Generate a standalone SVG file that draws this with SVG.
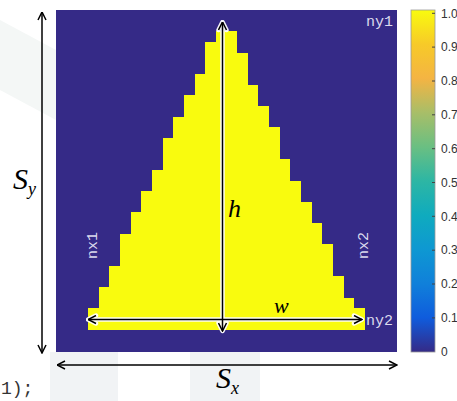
<svg xmlns="http://www.w3.org/2000/svg" width="457" height="401" viewBox="0 0 457 401">
<defs>
<linearGradient id="parula" x1="0" y1="1" x2="0" y2="0">
<stop offset="0" stop-color="#352a87"/>
<stop offset="0.1" stop-color="#0f5cdd"/>
<stop offset="0.2" stop-color="#1080da"/>
<stop offset="0.3" stop-color="#0e98d2"/>
<stop offset="0.4" stop-color="#0fabbe"/>
<stop offset="0.5" stop-color="#2db6a4"/>
<stop offset="0.6" stop-color="#6abf82"/>
<stop offset="0.7" stop-color="#a8be68"/>
<stop offset="0.8" stop-color="#f4b443"/>
<stop offset="0.9" stop-color="#f7ca28"/>
<stop offset="1" stop-color="#f9fb0e"/>
</linearGradient>
<marker id="arr" viewBox="0 0 10 10" refX="9.5" refY="5" markerWidth="10" markerHeight="10" markerUnits="userSpaceOnUse" orient="auto-start-reverse">
<path d="M1.5,1 L9.5,5 L1.5,9" fill="none" stroke="#000" stroke-width="1.5"/>
</marker>
<marker id="arrw" viewBox="-2 -2 14 14" refX="9.5" refY="5" markerWidth="14" markerHeight="14" markerUnits="userSpaceOnUse" orient="auto-start-reverse">
<path d="M1.5,1 L9.5,5 L1.5,9" fill="none" stroke="#fff" stroke-width="4.5" stroke-linejoin="round" stroke-linecap="round"/>
</marker>
</defs>
<style>
.lbl{font-family:"Liberation Serif","Times New Roman",serif;font-style:italic;fill:#000}
.mono{font-family:"Liberation Mono","Courier New",monospace;fill:#dcdaee;font-size:15px}
.tick{font-family:"Liberation Sans",Arial,sans-serif;font-size:12px;fill:#333}
.ax{stroke:#000;stroke-width:1.5;fill:none}
.halo{stroke:#fff;stroke-width:4.5;fill:none;opacity:0.95}
</style>
<rect width="457" height="401" fill="#fff"/>
<polygon points="0,20 56,50 56,120 0,90" fill="#f4f7f6"/>
<rect x="50" y="352" width="68" height="49" fill="#f1f3f5"/>
<rect x="190" y="352" width="70" height="49" fill="#f1f3f5"/>
<g id="image">
<rect x="56" y="10" width="341" height="342" fill="#352a87"/>
<g transform="translate(56,10) scale(10.65625)">
<path shape-rendering="crispEdges" fill="#f9fb0e" d="M3,30 V28 H4 V26 H5 V24 H6 V21 H7 V19 H8 V17 H9 V15 H10 V12 H11 V10 H12 V8 H13 V6 H14 V3 H15 V2 H17 V4 H18 V7 H19 V9 H20 V11 H21 V14 H22 V16 H23 V18 H24 V20 H25 V22 H26 V25 H27 V27 H28 V28 H29 V30 Z"/>
</g>
</g>
<g id="colorbar">
<rect x="411" y="10" width="24" height="342" fill="url(#parula)" stroke="#999" stroke-width="0.8"/>
<g stroke="#444" stroke-width="1">
<line x1="432" y1="13.3" x2="435" y2="13.3"/>
<line x1="432" y1="47.1" x2="435" y2="47.1"/>
<line x1="432" y1="81" x2="435" y2="81"/>
<line x1="432" y1="114.8" x2="435" y2="114.8"/>
<line x1="432" y1="148.7" x2="435" y2="148.7"/>
<line x1="432" y1="182.5" x2="435" y2="182.5"/>
<line x1="432" y1="216.3" x2="435" y2="216.3"/>
<line x1="432" y1="250.2" x2="435" y2="250.2"/>
<line x1="432" y1="284" x2="435" y2="284"/>
<line x1="432" y1="317.9" x2="435" y2="317.9"/>
</g>
<text class="tick" x="441" y="17.5">1.0</text>
<text class="tick" x="441" y="51.3">0.9</text>
<text class="tick" x="441" y="85.2">0.8</text>
<text class="tick" x="441" y="119">0.7</text>
<text class="tick" x="441" y="152.9">0.6</text>
<text class="tick" x="441" y="186.7">0.5</text>
<text class="tick" x="441" y="220.5">0.4</text>
<text class="tick" x="441" y="254.4">0.3</text>
<text class="tick" x="441" y="288.2">0.2</text>
<text class="tick" x="441" y="322.1">0.1</text>
<text class="tick" x="441" y="356">0</text>
</g>
<g id="connectors">
<line class="ax" x1="42" y1="12" x2="42" y2="353" marker-start="url(#arr)" marker-end="url(#arr)"/>
<line class="ax" x1="57" y1="365" x2="397" y2="365" marker-start="url(#arr)" marker-end="url(#arr)"/>
<line class="halo" x1="222.5" y1="22" x2="222.5" y2="331" marker-start="url(#arrw)" marker-end="url(#arrw)"/>
<line class="halo" x1="88" y1="319.5" x2="362" y2="319.5" marker-start="url(#arrw)" marker-end="url(#arrw)"/>
<line class="ax" x1="222.5" y1="22" x2="222.5" y2="331" marker-start="url(#arr)" marker-end="url(#arr)"/>
<line class="ax" x1="88" y1="319.5" x2="362" y2="319.5" marker-start="url(#arr)" marker-end="url(#arr)"/>
</g>
<g id="labels">
<text class="lbl" x="13" y="189" font-size="30">S<tspan font-size="18" dy="6">y</tspan></text>
<text class="lbl" x="216" y="388" font-size="30">S<tspan font-size="18" dy="6">x</tspan></text>
<text class="lbl" x="228" y="217" font-size="26">h</text>
<text class="lbl" x="274" y="313" font-size="22">w</text>
<text class="mono" x="366" y="26">ny1</text>
<text class="mono" x="366" y="325">ny2</text>
<text class="mono" transform="translate(97,259) rotate(-90)">nx1</text>
<text class="mono" transform="translate(368,259) rotate(-90)">nx2</text>
<text x="1" y="394" font-family="'Liberation Mono','Courier New',monospace" font-size="18" fill="#333">1);</text>
</g>
</svg>
